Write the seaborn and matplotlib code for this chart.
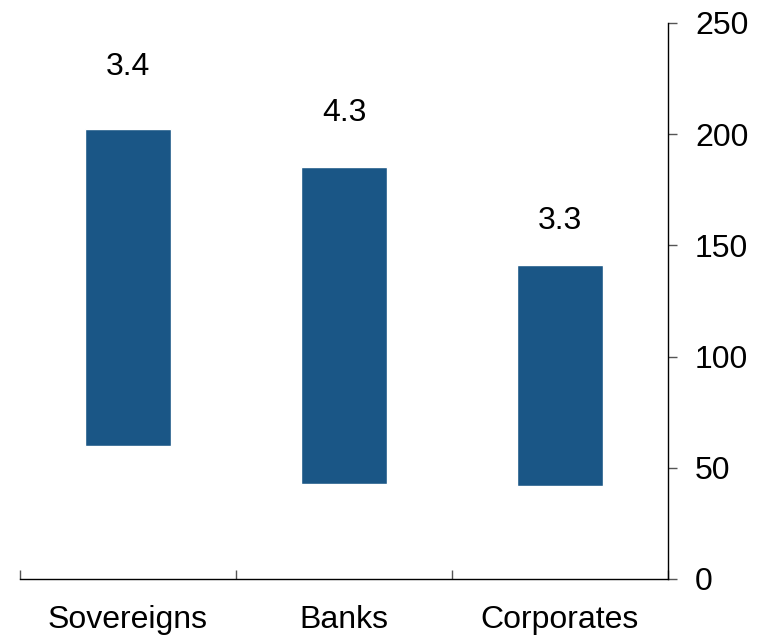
import numpy as np
import pandas as pd
import matplotlib
matplotlib.use("Agg")
import matplotlib.pyplot as plt
import seaborn as sns

categories = ["Sovereigns", "Banks", "Corporates"]
low = [59.8, 42.7, 41.8]
high = [202.3, 185.3, 141.2]
ratio_labels = ["3.4", "4.3", "3.3"]
label_y = [231.6, 210.9, 162.2]
y_ticks = [0, 50, 100, 150, 200, 250]

sns.set_style("white")
plt.rcParams["font.family"] = ["Liberation Sans", "DejaVu Sans"]
plt.rcParams["font.size"] = 23
plt.rcParams["text.color"] = "black"
plt.rcParams["xtick.color"] = "black"
plt.rcParams["ytick.color"] = "black"

df = pd.DataFrame({"category": categories, "low": low, "high": high})
df["span"] = df["high"] - df["low"]

fig = plt.figure(figsize=(7.59, 6.37), dpi=100)
ax = fig.add_axes([20 / 759, (637 - 579) / 637, 648 / 759, 556 / 637])

sns.barplot(data=df, x="category", y="span", order=categories, color="#1a5686",
            width=0.4, bottom=df["low"].values, saturation=1, ax=ax)

# ratio labels above the bars (nudged so the digits, not the text box, are centred)
for i, (ly, lab) in enumerate(zip(label_y, ratio_labels)):
    ax.annotate(lab, (i, ly), xytext=(0, -2.2), textcoords="offset points",
                ha="center", va="center", fontsize=23, color="black")

ax.set_xlim(-0.5, 2.5)
ax.set_ylim(0, 250)
ax.set_xlabel("")
ax.set_ylabel("")

# y axis on the right
ax.yaxis.tick_right()
ax.set_yticks(y_ticks)
ax.tick_params(axis="y", direction="out", length=6.5, width=1, color="#555555",
               labelcolor="black", pad=13, labelsize=23, right=True, left=False)

# x axis: labels at centres, tick marks at category boundaries pointing up
ax.set_xticks(range(len(categories)))
ax.set_xticklabels(categories)
ax.set_xticks([-0.5, 0.5, 1.5, 2.5], minor=True)
ax.tick_params(axis="x", which="major", length=0, pad=19, labelsize=23,
               labelcolor="black")
ax.tick_params(axis="x", which="minor", direction="in", length=6.5, width=1,
               color="#555555", bottom=True)

for side in ["top", "left"]:
    ax.spines[side].set_visible(False)
for side in ["bottom", "right"]:
    ax.spines[side].set_color("black")
    ax.spines[side].set_linewidth(1)

fig.savefig("out.png", dpi=100)
